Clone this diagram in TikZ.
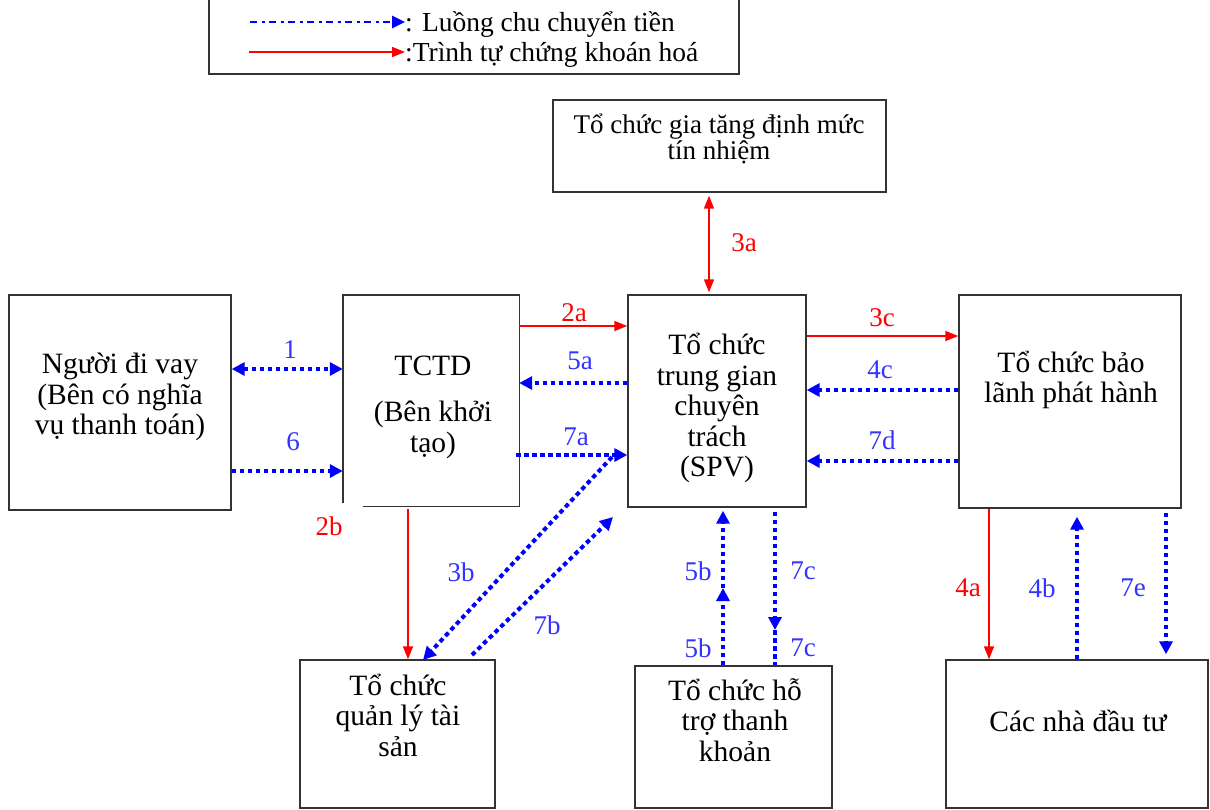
\documentclass[tikz,border=0pt]{standalone}
\usepackage{fontspec}
\setmainfont{Liberation Serif}
\usetikzlibrary{arrows.meta}
\definecolor{arrblue}{RGB}{0,0,255}
\definecolor{lblblue}{RGB}{51,51,255}
\definecolor{arrred}{RGB}{255,0,0}
\definecolor{boxgray}{RGB}{51,51,51}
\tikzset{
  box/.style={draw=boxgray,line width=1.4pt,inner sep=0pt},
  boxtxt/.style={align=center,inner sep=0pt,font=\fontsize{29.5}{30.5}\selectfont},
  lbl/.style={inner sep=0pt,font=\fontsize{27}{30}\selectfont},
  rlbl/.style={lbl,text=arrred},
  blbl/.style={lbl,text=lblblue},
  money/.style={draw=arrblue,line width=4pt,dash pattern=on 4.5pt off 3.5pt},
  mtip/.style={-{Triangle[length=13pt,width=13pt]}},
  mtips/.style={{Triangle[length=13pt,width=13pt]}-{Triangle[length=13pt,width=13pt]}},
  seq/.style={draw=arrred,line width=1.6pt,-{Triangle[length=13pt,width=10pt]}},
  seqs/.style={draw=arrred,line width=1.6pt,{Triangle[length=13pt,width=10pt]}-{Triangle[length=13pt,width=10pt]}},
}
\begin{document}
\begin{tikzpicture}[x=1pt,y=-1pt]
\useasboundingbox (0,0) rectangle (1210,809);
\fill[white] (0,0) rectangle (1210,809);

% legend
\node[box,minimum width=530pt,minimum height=100pt] (legend) at (474,24) {};
\coordinate (lg1s) at (250,22);
\coordinate (lg1e) at (405,22);
\coordinate (lg2s) at (249,52);
\coordinate (lg2e) at (405,52);
\draw[draw=arrblue,line width=2.7pt,dash pattern=on 7pt off 4.5pt on 3pt off 4.5pt,-{Triangle[length=13pt,width=12pt]}] (lg1s) -- (lg1e);
\draw[seq] (lg2s) -- (lg2e);
\node[anchor=base west,inner sep=0pt,font=\fontsize{27.5}{30}\selectfont] (lgt1) at (405,31) {: Luồng chu chuyển tiền};
\node[anchor=base west,inner sep=0pt,font=\fontsize{27.5}{30}\selectfont] (lgt2) at (405,61) {:Trình tự chứng khoán hoá};

% boxes
\node[box,minimum width=333pt,minimum height=92pt] (rate) at (719.5,146) {};
\node[box,minimum width=222pt,minimum height=215pt] (bor) at (120,402.5) {};
\node[inner sep=0pt,minimum width=176pt,minimum height=211pt] (tctd) at (431,400.5) {};
\draw[boxgray,line width=1.4pt] ([yshift=3pt]tctd.south west) -- (tctd.north west) -- (tctd.north east) -- (tctd.south east) -- ([xshift=20pt]tctd.south west);
\node[box,minimum width=178pt,minimum height=212pt] (spv) at (717,401) {};
\node[box,minimum width=222pt,minimum height=213pt] (und) at (1070,401.5) {};
\node[box,minimum width=195pt,minimum height=148pt] (asset) at (397.5,734) {};
\node[box,minimum width=197pt,minimum height=142pt] (liq) at (733.5,737) {};
\node[box,minimum width=262pt,minimum height=148pt] (inv) at (1077,734) {};

% box texts
\node[boxtxt,font=\fontsize{27}{26.5}\selectfont] (ratet) at (719,139) {Tổ chức gia tăng định mức\\tín nhiệm};
\node[boxtxt] (bort) at (120,397) {Người đi vay\\(Bên có nghĩa\\vụ thanh toán)};
\node[boxtxt] (tctdt) at (433,407) {TCTD\\[16pt](Bên khởi\\tạo)};
\node[boxtxt] (spvt) at (717,408) {Tổ chức\\trung gian\\chuyên\\trách\\(SPV)};
\node[boxtxt] (undt) at (1071,380) {Tổ chức bảo\\lãnh phát hành};
\node[boxtxt] (assett) at (398,715) {Tổ chức\\quản lý tài\\sản};
\node[boxtxt] (liqt) at (735,720) {Tổ chức hỗ\\trợ thanh\\khoản};
\node[boxtxt] (invt) at (1078,721) {Các nhà đầu tư};

% helper coordinates
\coordinate (b3s) at (612,457);
\coordinate (b3e) at (423,660);
\coordinate (b7s) at (472,655);
\coordinate (b7e) at (613,517);
\coordinate (m5b) at (723,588);
\coordinate (m7c) at (775,630);

% connectors
\draw[money,mtips] (bor.east |- 0,369) -- (tctd.west |- 0,369);
\draw[money,mtip] (bor.east |- 0,471) -- (tctd.west |- 0,471);
\draw[seq] (tctd.east |- 0,326) -- (spv.west |- 0,326);
\draw[money,mtip] (spv.west |- 0,383) -- (tctd.east |- 0,383);
\draw[money,mtip] ([xshift=-3pt]tctd.east |- 0,455) -- (spv.west |- 0,455);
\draw[seqs,shorten <=3pt,shorten >=2pt] (rate.south -| 709,0) -- (spv.north -| 709,0);
\draw[seq] (spv.east |- 0,336) -- (und.west |- 0,336);
\draw[money,mtip] (und.west |- 0,390) -- (spv.east |- 0,390);
\draw[money,mtip] (und.west |- 0,461) -- (spv.east |- 0,461);
\draw[seq,shorten <=3pt] (tctd.south -| 408,0) -- (asset.north -| 408,0);
\draw[money,mtip] (b3s) -- (b3e);
\draw[money,mtip] (b7s) -- (b7e);
\draw[money,mtip] (liq.north -| 723,0) -- (m5b);
\draw[money,mtip,shorten >=3pt] (m5b) -- (spv.south -| 723,0);
\draw[money,mtip,shorten <=4pt] (spv.south -| 775,0) -- (m7c);
\draw[money] (m7c) -- (liq.north -| 775,0);
\draw[seq] (und.south -| 989,0) -- (inv.north -| 989,0);
\draw[money,mtip,shorten >=8pt] (inv.north -| 1077,0) -- (und.south -| 1077,0);
\draw[money,mtip,shorten <=4pt,shorten >=5pt] (und.south -| 1166,0) -- (inv.north -| 1166,0);

% labels
\node[blbl] (l1) at (290,350) {1};
\node[blbl] (l6) at (293,442) {6};
\node[rlbl] (l2a) at (574,313) {2a};
\node[blbl] (l5a) at (580,361) {5a};
\node[blbl] (l7a) at (576,437) {7a};
\node[rlbl] (l3a) at (744,243) {3a};
\node[rlbl] (l3c) at (882,318) {3c};
\node[blbl] (l4c) at (880,370) {4c};
\node[blbl] (l7d) at (882,440) {7d};
\node[rlbl] (l2b) at (329,526) {2b};
\node[blbl] (l3b) at (461,572) {3b};
\node[blbl] (l7b) at (547,625) {7b};
\node[blbl] (l5b1) at (698,571) {5b};
\node[blbl] (l5b2) at (698,648) {5b};
\node[blbl] (l7c1) at (803,571) {7c};
\node[blbl] (l7c2) at (803,648) {7c};
\node[rlbl] (l4a) at (968,588) {4a};
\node[blbl] (l4b) at (1042,588) {4b};
\node[blbl] (l7e) at (1133,588) {7e};
\end{tikzpicture}
\end{document}
